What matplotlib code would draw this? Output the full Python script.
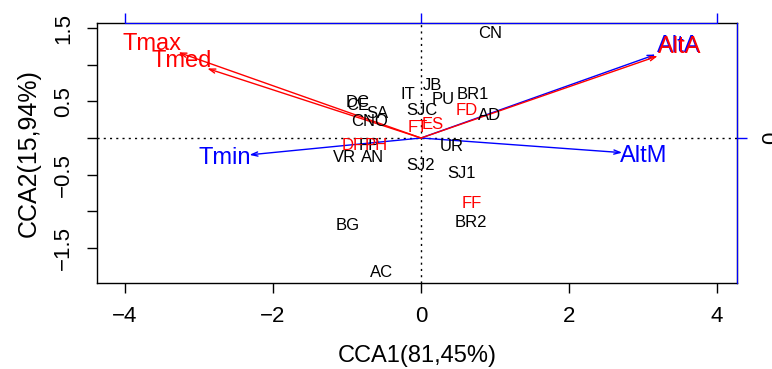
import matplotlib.pyplot as plt

plt.rcParams['font.family'] = ['Liberation Sans', 'DejaVu Sans']
plt.rcParams['axes.unicode_minus'] = True

# site scores (black labels)
sites = ['CN', 'IT', 'JB', 'PU', 'BR1', 'SJC', 'AD', 'DC', 'CE', 'SA', 'CNO',
         'FP', 'VR', 'AN', 'UR', 'SJ2', 'SJ1', 'BR2', 'BG', 'AC']
site_x = [0.93, -0.18, 0.16, 0.30, 0.70, 0.01, 0.93, -0.86, -0.86, -0.59, -0.69,
          -0.70, -1.04, -0.65, 0.41, -0.01, 0.55, 0.68, -0.99, -0.54]
site_y = [1.43, 0.60, 0.72, 0.53, 0.60, 0.38, 0.31, 0.49, 0.44, 0.33, 0.22,
          -0.10, -0.26, -0.26, -0.12, -0.37, -0.48, -1.16, -1.19, -1.84]

# species scores (red labels)
species = ['FD', 'FT', 'ES', 'DF', 'PH', 'FF']
sp_x = [0.62, -0.04, 0.16, -0.92, -0.61, 0.68]
sp_y = [0.37, 0.15, 0.18, -0.10, -0.10, -0.89]

# biplot arrows, red set
red_vars = ['Tmax', 'Tmed', 'AltA']
red_tip_x = [-3.28, -2.89, 3.20]
red_tip_y = [1.17, 0.95, 1.12]
red_lab_x = [-3.64, -3.23, 3.50]
red_lab_y = [1.28, 1.05, 1.24]

# biplot arrows, blue set
blue_vars = ['Tmin', 'AltM', 'AltA']
blue_tip_x = [-2.32, 2.72, 3.17]
blue_tip_y = [-0.23, -0.20, 1.14]
blue_lab_x = [-2.65, 3.01, 3.48]
blue_lab_y = [-0.27, -0.24, 1.26]

xlim = (-4.38, 4.27)
ylim = (-1.98, 1.57)

fig = plt.figure(figsize=(7.72, 3.69), dpi=100)
ax = fig.add_axes([0.1256, 0.233, 0.829, 0.7046])
ax.set_xlim(xlim)
ax.set_ylim(ylim)

ax.axhline(0, color='black', ls=(0, (1.5, 3)), lw=1)
ax.axvline(0, color='black', ls=(0, (1.5, 3)), lw=1)

def arrows(tx, ty, lx, ly, names, col):
    for x, y, a, b, n in zip(tx, ty, lx, ly, names):
        ax.annotate('', xy=(x, y), xytext=(0, 0),
                    arrowprops=dict(arrowstyle='->,head_length=0.45,head_width=0.15',
                                    color=col, lw=1, shrinkA=0, shrinkB=0))
        ax.text(a, b, n, color=col, fontsize=17, ha='center', va='center')

arrows(blue_tip_x, blue_tip_y, blue_lab_x, blue_lab_y, blue_vars, 'blue')
arrows(red_tip_x, red_tip_y, red_lab_x, red_lab_y, red_vars, 'red')

for n, x, y in zip(sites, site_x, site_y):
    ax.text(x, y, n, color='black', fontsize=12, ha='center', va='center')
for n, x, y in zip(species, sp_x, sp_y):
    ax.text(x, y, n, color='red', fontsize=12, ha='center', va='center')

ax.set_xticks([-4, -2, 0, 2, 4])
ax.set_xticklabels(['\u22124', '\u22122', '0', '2', '4'])
ax.set_yticks([-1.5, -1.0, -0.5, 0, 0.5, 1.0, 1.5])
ax.set_yticklabels(['\u22121.5', '', '\u22120.5', '', '0.5', '', '1.5'],
                   rotation=90, va='center')
ax.tick_params(axis='both', direction='out', length=7.5, width=1, labelsize=16)
ax.tick_params(axis='x', pad=9)
ax.tick_params(axis='y', pad=9)
ax.set_xlabel('CCA1(81,45%)', fontsize=17, labelpad=13)
ax.set_ylabel('CCA2(15,94%)', fontsize=18, labelpad=9)
for s in ax.spines.values():
    s.set_linewidth(1)

# blue axes for the arrow scale
top = ax.twiny()
top.set_xlim(xlim)
top.set_xticks([-4, 0, 4])
top.set_xticklabels(['', '', ''])
top.tick_params(axis='x', colors='blue', direction='out', length=7.5, width=1)
top.spines['top'].set_color('blue')
top.spines['top'].set_bounds(-4, 4)
for k in ['left', 'right', 'bottom']:
    top.spines[k].set_visible(False)

right = ax.twinx()
right.set_ylim(ylim)
right.set_yticks([0])
right.set_yticklabels(['0'], rotation=90, va='center')
right.tick_params(axis='y', colors='blue', direction='out', length=7.5, width=1,
                  labelsize=16, pad=10, labelcolor='black')
right.spines['right'].set_color('blue')
for k in ['left', 'top', 'bottom']:
    right.spines[k].set_visible(False)

fig.savefig('out.png', dpi=100)
